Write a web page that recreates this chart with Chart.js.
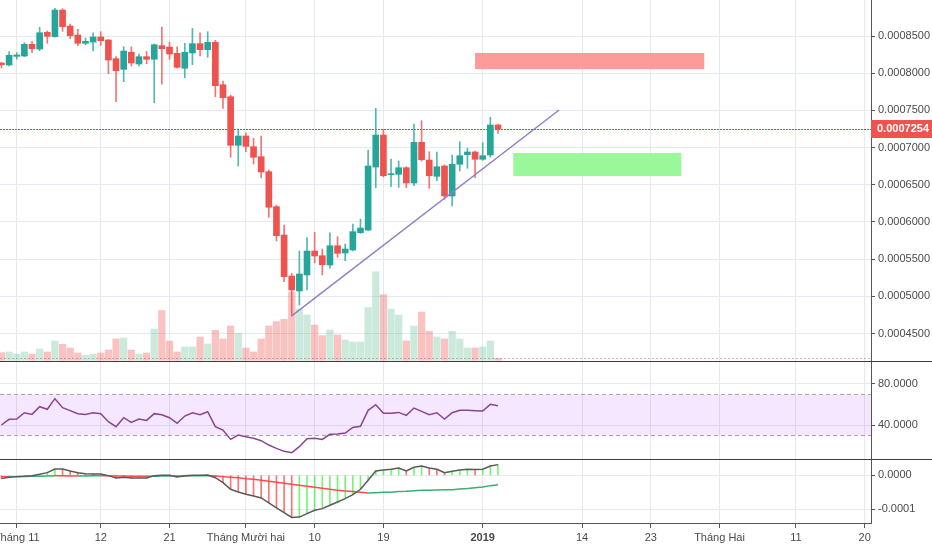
<!DOCTYPE html>
<html>
<head>
<meta charset="utf-8">
<script src="https://cdn.jsdelivr.net/npm/chart.js@4.4.0/dist/chart.umd.min.js"></script>
<style>
  html, body { margin: 0; padding: 0; background: #fff; }
  #wrap { position: relative; width: 932px; height: 550px; overflow: hidden; }
  .pane { position: absolute; left: 0; width: 932px; }
  .sep { position: absolute; left: 0; width: 932px; height: 1px; background: #3c3c3c; }
</style>
</head>
<body>
<div id="wrap">
  <div class="pane" style="top:0;height:361px"><canvas id="main"></canvas></div>
  <div class="sep" style="top:361px"></div>
  <div class="pane" style="top:362px;height:97px"><canvas id="rsi"></canvas></div>
  <div class="sep" style="top:459px"></div>
  <div class="pane" style="top:460px;height:90px"><canvas id="macd"></canvas></div>
</div>
<script>
// ---- data ----
const dates = [
  '2018-10-30','2018-10-31',
  '2018-11-01','2018-11-02','2018-11-03','2018-11-04','2018-11-05','2018-11-06','2018-11-07','2018-11-08','2018-11-09','2018-11-10',
  '2018-11-11','2018-11-12','2018-11-13','2018-11-14','2018-11-15','2018-11-16','2018-11-17','2018-11-18','2018-11-19','2018-11-20',
  '2018-11-21','2018-11-22','2018-11-23','2018-11-24','2018-11-25','2018-11-26','2018-11-27','2018-11-28','2018-11-29','2018-11-30',
  '2018-12-01','2018-12-02','2018-12-03','2018-12-04','2018-12-05','2018-12-06','2018-12-07','2018-12-08','2018-12-09','2018-12-10',
  '2018-12-11','2018-12-12','2018-12-13','2018-12-14','2018-12-15','2018-12-16','2018-12-17','2018-12-18','2018-12-19','2018-12-20',
  '2018-12-21','2018-12-22','2018-12-23','2018-12-24','2018-12-25','2018-12-26','2018-12-27','2018-12-28','2018-12-29','2018-12-30',
  '2018-12-31','2019-01-01','2019-01-02','2019-01-03'
];
const opens = [
  0.0008137,0.0008110,
  0.0008227,0.0008231,0.0008388,0.0008325,0.0008550,0.0008491,0.0008849,0.0008634,0.0008513,0.0008402,
  0.0008419,0.0008487,0.0008446,0.0008195,0.0008052,0.0008282,0.0008124,0.0008222,0.0008187,0.0008370,
  0.0008352,0.0008267,0.0008066,0.0008272,0.0008397,0.0008316,0.0008415,0.0007845,0.0007684,0.0007031,
  0.0007156,0.0007012,0.0006878,0.0006676,0.0006206,0.0005825,0.0005274,0.0005073,0.0005288,0.0005610,
  0.0005547,0.0005422,0.0005681,0.0005583,0.0005624,0.0005856,0.0005892,0.0006739,0.0007169,0.0006636,
  0.0006641,0.0006730,0.0006524,0.0007071,0.0006833,0.0006614,0.0006753,0.0006349,0.0006776,0.0006905,
  0.0006941,0.0006843,0.0006901,0.0007304
];
const highs = [
  0.0008146,0.0008289,
  0.0008276,0.0008410,0.0008429,0.0008617,0.0008567,0.0008872,0.0008867,0.0008661,0.0008590,0.0008473,
  0.0008544,0.0008558,0.0008456,0.0008222,0.0008356,0.0008356,0.0008258,0.0008294,0.0008392,0.0008621,
  0.0008415,0.0008356,0.0008402,0.0008603,0.0008544,0.0008558,0.0008442,0.0007895,0.0007707,0.0007250,
  0.0007200,0.0007125,0.0007156,0.0006699,0.0006224,0.0005960,0.0005310,0.0005610,0.0005789,0.0005862,
  0.0005637,0.0005856,0.0005802,0.0005704,0.0005973,0.0006040,0.0006968,0.0007528,0.0007246,0.0006847,
  0.0006820,0.0006743,0.0007317,0.0007362,0.0006945,0.0006941,0.0006766,0.0006901,0.0007079,0.0006991,
  0.0006954,0.0007066,0.0007407,0.0007317
];
const lows = [
  0.0008070,0.0008097,
  0.0008187,0.0008222,0.0008276,0.0008302,0.0008402,0.0008485,0.0008563,0.0008464,0.0008370,0.0008383,
  0.0008298,0.0008375,0.0007993,0.0007617,0.0007886,0.0008097,0.0008097,0.0008128,0.0007604,0.0007851,
  0.0008187,0.0008066,0.0007940,0.0008114,0.0008231,0.0008214,0.0007684,0.0007528,0.0006870,0.0006753,
  0.0006945,0.0006780,0.0006595,0.0006063,0.0005745,0.0005198,0.0004737,0.0004884,0.0005086,0.0005449,
  0.0005288,0.0005378,0.0005526,0.0005480,0.0005612,0.0005848,0.0005883,0.0006461,0.0006605,0.0006474,
  0.0006466,0.0006461,0.0006488,0.0006820,0.0006453,0.0006555,0.0006305,0.0006215,0.0006685,0.0006722,
  0.0006595,0.0006829,0.0006870,0.0007192
];
const closes = [
  0.0008114,0.0008241,
  0.0008245,0.0008388,0.0008329,0.0008544,0.0008496,0.0008849,0.0008625,0.0008504,0.0008402,0.0008429,
  0.0008487,0.0008437,0.0008177,0.0008034,0.0008298,0.0008137,0.0008222,0.0008187,0.0008383,0.0008329,
  0.0008258,0.0008079,0.0008281,0.0008397,0.0008316,0.0008415,0.0007832,0.0007671,0.0007031,0.0007156,
  0.0007017,0.0006870,0.0006672,0.0006198,0.0005816,0.0005265,0.0005086,0.0005301,0.0005610,0.0005543,
  0.0005426,0.0005681,0.0005579,0.0005637,0.0005870,0.0005919,0.0006753,0.0007169,0.0006622,0.0006649,
  0.0006730,0.0006524,0.0007071,0.0006837,0.0006622,0.0006743,0.0006349,0.0006776,0.0006891,0.0006941,
  0.0006843,0.0006891,0.0007304,0.0007254
];
const volumes = [
  7700,8300,
  6300,8300,6300,11300,8300,19300,16000,12300,7300,5000,
  6300,7300,10300,21300,22300,10300,6300,7300,31300,49700,
  19300,8300,13300,13300,23300,16300,30000,21300,34300,27000,
  12300,8300,21300,34300,38700,41000,68000,51300,45300,35300,
  24700,30300,25300,20300,18300,18300,53000,88600,65700,51300,
  45300,19300,34300,48300,29000,23300,21300,29000,21300,12300,
  12300,13300,19300,2000
];
const rsiValues = [
  40.0,45.5,
  45.8,51.9,50.3,57.7,55.2,65.5,56.8,53.9,51.0,50.3,
  51.9,51.0,43.2,38.4,47.1,42.6,45.8,44.5,51.0,50.0,
  47.1,41.6,48.7,51.9,50.0,52.9,38.4,35.1,26.1,30.3,
  28.7,27.1,24.8,20.6,17.4,14.5,13.2,19.0,26.7,27.1,
  26.1,31.0,31.3,32.2,37.7,38.7,54.2,59.7,51.3,51.3,
  52.2,49.3,56.4,53.2,50.0,51.9,45.8,51.9,54.2,54.2,
  53.9,53.5,60.0,58.7
];
const macdValues = [
  -9.8e-6,-5.9e-6,
  -3.9e-6,-2.9e-6,-1.0e-6,2.9e-6,7.8e-6,18.6e-6,18.3e-6,12.7e-6,7.8e-6,4.9e-6,
  3.9e-6,3.7e-6,-1.0e-6,-7.8e-6,-5.9e-6,-7.8e-6,-7.6e-6,-7.8e-6,-1.0e-6,0,
  0.2e-6,-4.9e-6,-1.0e-6,0,0.5e-6,1.0e-6,-7.0e-6,-21.6e-6,-41.2e-6,-49.0e-6,
  -55.9e-6,-60.8e-6,-66.7e-6,-81.4e-6,-96.1e-6,-109.8e-6,-124.0e-6,-123.0e-6,-112.7e-6,-102.9e-6,
  -98.0e-6,-88.2e-6,-78.4e-6,-68.6e-6,-56.9e-6,-41.2e-6,-14.7e-6,12.7e-6,15.7e-6,17.6e-6,
  21.6e-6,12.7e-6,23.5e-6,27.5e-6,21.6e-6,17.6e-6,7.8e-6,11.8e-6,15.7e-6,17.6e-6,
  17.2e-6,17.9e-6,27.5e-6,31.4e-6
];
const signalValues = [
  -4.0e-6,-4.2e-6,
  -3.9e-6,-3.5e-6,-3.0e-6,-2.6e-6,-2.0e-6,-1.2e-6,-1.4e-6,-1.7e-6,-1.9e-6,-1.7e-6,
  -1.5e-6,-1.3e-6,-1.5e-6,-2.0e-6,-2.3e-6,-2.6e-6,-2.8e-6,-3.0e-6,-2.7e-6,-2.3e-6,
  -2.0e-6,-2.2e-6,-2.0e-6,-1.6e-6,-1.2e-6,-1.0e-6,-2.0e-6,-3.9e-6,-5.4e-6,-6.9e-6,
  -9.8e-6,-11.8e-6,-14.7e-6,-17.6e-6,-20.6e-6,-23.5e-6,-26.5e-6,-29.4e-6,-32.4e-6,-35.3e-6,
  -38.2e-6,-41.2e-6,-44.1e-6,-46.1e-6,-48.0e-6,-50.0e-6,-52.0e-6,-51.0e-6,-50.0e-6,-49.5e-6,
  -48.0e-6,-47.1e-6,-45.1e-6,-44.1e-6,-43.8e-6,-43.1e-6,-42.6e-6,-42.2e-6,-40.2e-6,-38.7e-6,
  -36.3e-6,-34.3e-6,-30.4e-6,-27.5e-6
];

// drawings on the chart
const trendDates = ['2018-12-07', '2019-01-11'];
const trendPrices = [0.0004737, 0.0007505];
const sellZoneDates = ['2018-12-31', '2019-01-30'];
const sellZonePrices = [0.0008056, 0.0008272];
const buyZoneDates = ['2019-01-05', '2019-01-27'];
const buyZonePrices = [0.0006618, 0.0006927];

// axes
const tickDates = ['2018-11-01','2018-11-12','2018-11-21','2018-12-01','2018-12-10','2018-12-19',
                   '2019-01-01','2019-01-14','2019-01-23','2019-02-01','2019-02-11','2019-02-20'];
const tickLabels = ['Tháng 11','12','21','Tháng Mười hai','10','19','2019','14','23','Tháng Hai','11','20'];
const priceTicks = [0.00045,0.0005,0.00055,0.0006,0.00065,0.0007,0.00075,0.0008,0.00085];
const rsiTicks = [40, 80];
const macdTicks = [0, -0.0001];

// ---- style ----
const FONT = "'Liberation Sans', Arial, sans-serif";
const UP = '#26a69a', DN = '#ef5350';
const WICK_UP = 'rgba(38,166,154,0.8)', WICK_DN = 'rgba(239,83,80,0.8)';
const VOL_UP = 'rgba(83,185,135,0.3)', VOL_DN = 'rgba(239,83,80,0.35)';
const GRID = '#e3eaf1', AXIS = '#555', LABEL = '#4a4a4a';
const X_MIN = -2.19, X_MAX = 111.83, AXIS_W = 61;

const DAY0 = Date.UTC(2018, 10, 1);
const toDay = s => (Date.parse(s) - DAY0) / 864e5;
const days = dates.map(toDay);
const tickDays = tickDates.map(toDay);
const up = closes.map((c, i) => c >= opens[i]);
const lastClose = closes[closes.length - 1];

function xScale(showLabels) {
  return {
    type: 'linear', min: X_MIN, max: X_MAX, offset: false,
    afterBuildTicks: s => { s.ticks = tickDays.map(v => ({ value: v })); },
    grid: { offset: false, color: GRID, drawTicks: showLabels, tickLength: 5, tickColor: AXIS },
    border: { display: showLabels, color: AXIS },
    ticks: {
      display: showLabels, autoSkip: false, maxRotation: 0, padding: 3, color: LABEL,
      font: c => ({ family: FONT, size: 11, weight: tickLabels[c.index] === '2019' ? 'bold' : 'normal' }),
      callback: (v, i) => tickLabels[i]
    },
    afterFit: s => { s.height = showLabels ? 27 : 0; s.paddingLeft = 0; s.paddingRight = 0; }
  };
}

function yScale(min, max, tickVals, fmt) {
  return {
    position: 'right', min, max,
    afterBuildTicks: s => { s.ticks = tickVals.map(v => ({ value: v })); },
    grid: { color: GRID, tickLength: 4, tickColor: AXIS },
    border: { color: AXIS },
    ticks: { color: LABEL, padding: 3, font: { family: FONT, size: 11 }, callback: v => fmt(v) },
    afterFit: s => { s.width = AXIS_W; s.paddingTop = 0; s.paddingBottom = 0; }
  };
}

function baseOptions(scales) {
  return {
    responsive: true, maintainAspectRatio: false, animation: false, events: [],
    layout: { padding: 0 },
    plugins: { legend: { display: false }, tooltip: { enabled: false } },
    scales
  };
}

function hLine(ctx, a, py, color, dash) {
  ctx.strokeStyle = color; ctx.lineWidth = 1; ctx.setLineDash(dash);
  ctx.beginPath(); ctx.moveTo(a.left, py); ctx.lineTo(a.right, py); ctx.stroke();
}

// ---- main pane: candles + volume ----
const mainDecor = {
  id: 'mainDecor',
  beforeDatasetsDraw(chart) {
    const { ctx, chartArea: a, scales: { y, vol } } = chart;
    ctx.save();
    hLine(ctx, a, Math.round(y.getPixelForValue(lastClose)) + 0.5, '#f03c3c', [2, 1]);
    hLine(ctx, a, Math.round(vol.getPixelForValue(volumes[volumes.length - 1])) + 0.5, 'rgba(210,120,130,0.6)', [2, 2]);
    ctx.restore();
  },
  afterDatasetsDraw(chart) {
    const { ctx, scales: { x, y } } = chart;
    const box = (ds, ps, color) => {
      const x1 = x.getPixelForValue(toDay(ds[0])), x2 = x.getPixelForValue(toDay(ds[1]));
      const y1 = y.getPixelForValue(ps[1]), y2 = y.getPixelForValue(ps[0]);
      ctx.fillStyle = color;
      ctx.fillRect(x1, y1, x2 - x1, y2 - y1);
    };
    ctx.save();
    box(sellZoneDates, sellZonePrices, '#fd9a9a');
    box(buyZoneDates, buyZonePrices, '#9af79a');
    ctx.restore();
  },
  afterDraw(chart) {
    const { ctx, chartArea: a, scales: { y } } = chart;
    const py = y.getPixelForValue(lastClose);
    ctx.save();
    ctx.fillStyle = DN;
    ctx.fillRect(a.right, Math.round(py) - 9, chart.width - a.right, 18);
    ctx.fillStyle = '#fff';
    ctx.font = 'bold 11px ' + FONT;
    ctx.textBaseline = 'middle';
    ctx.fillText(lastClose.toFixed(7), a.right + 6, py + 0.5);
    ctx.restore();
  }
};

new Chart(document.getElementById('main'), {
  type: 'bar',
  data: {
    datasets: [
      {
        label: 'Volume', yAxisID: 'vol',
        data: volumes.map((v, i) => ({ x: days[i], y: v })),
        backgroundColor: up.map(u => u ? VOL_UP : VOL_DN),
        barThickness: 6.6, maxBarThickness: 6.6, grouped: false, order: 3
      },
      {
        label: 'Wick', yAxisID: 'y',
        data: highs.map((h, i) => ({ x: days[i], y: [lows[i], h] })),
        backgroundColor: up.map(u => u ? WICK_UP : WICK_DN),
        barThickness: 1, maxBarThickness: 1, grouped: false, order: 2
      },
      {
        label: 'Body', yAxisID: 'y',
        data: opens.map((o, i) => ({ x: days[i], y: [o, closes[i]] })),
        backgroundColor: up.map(u => u ? UP : DN),
        barThickness: 6, maxBarThickness: 6, minBarLength: 1, grouped: false, order: 1
      },
      {
        type: 'line', label: 'Trend', yAxisID: 'y',
        data: trendDates.map((d, i) => ({ x: toDay(d), y: trendPrices[i] })),
        borderColor: '#8f80c8', borderWidth: 1.5, pointRadius: 0, order: 0
      }
    ]
  },
  options: baseOptions({
    x: xScale(false),
    y: yScale(0.00041317, 0.00089839, priceTicks, v => v.toFixed(7)),
    vol: { axis: 'y', position: 'left', display: false, min: -700, max: 360300 }
  }),
  plugins: [mainDecor]
});

// ---- RSI pane ----
const rsiBand = {
  id: 'rsiBand',
  beforeDatasetsDraw(chart) {
    const { ctx, chartArea: a, scales: { y } } = chart;
    const y70 = Math.round(y.getPixelForValue(70)) + 0.5, y30 = Math.round(y.getPixelForValue(30)) + 0.5;
    ctx.save();
    ctx.fillStyle = 'rgba(153,21,255,0.1)';
    ctx.fillRect(a.left, y70, a.right - a.left, y30 - y70);
    hLine(ctx, a, y70, '#a6a6a6', [4, 3]);
    hLine(ctx, a, y30, '#a6a6a6', [4, 3]);
    ctx.restore();
  }
};

new Chart(document.getElementById('rsi'), {
  type: 'line',
  data: {
    datasets: [{
      label: 'RSI',
      data: rsiValues.map((v, i) => ({ x: days[i], y: v })),
      borderColor: '#87468f', borderWidth: 1.5, pointRadius: 0, tension: 0
    }]
  },
  options: baseOptions({
    x: xScale(false),
    y: yScale(7.1, 101, rsiTicks, v => v.toFixed(4))
  }),
  plugins: [rsiBand]
});

// ---- MACD pane ----
new Chart(document.getElementById('macd'), {
  type: 'bar',
  data: {
    datasets: [
      {
        label: 'Histogram',
        data: macdValues.map((v, i) => ({ x: days[i], y: v })),
        backgroundColor: macdValues.map((v, i) => (i > 0 && v >= macdValues[i - 1]) ? 'rgba(0,240,0,0.55)' : 'rgba(255,0,0,0.55)'),
        barThickness: 1, maxBarThickness: 1, grouped: false, order: 3
      },
      {
        type: 'line', label: 'Signal',
        data: signalValues.map((v, i) => ({ x: days[i], y: v })),
        borderWidth: 1.5, pointRadius: 0, order: 2,
        segment: { borderColor: c => c.p1.parsed.y >= c.p0.parsed.y ? '#3cae6e' : '#ff4d4d' }
      },
      {
        type: 'line', label: 'MACD',
        data: macdValues.map((v, i) => ({ x: days[i], y: v })),
        borderColor: '#5a5a5a', borderWidth: 1.5, pointRadius: 0, order: 1
      }
    ]
  },
  options: baseOptions({
    x: xScale(true),
    y: yScale(-0.0001403, 0.000045, macdTicks, v => v.toFixed(4))
  })
});
</script>
</body>
</html>
